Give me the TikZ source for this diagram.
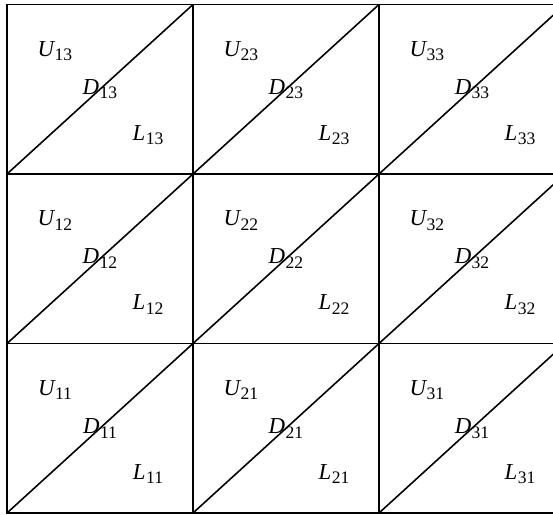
\documentclass[tikz,border=0pt]{standalone}
\usepackage{fontspec}
\setmainfont{Liberation Serif}
\usepackage{tikz}
\usetikzlibrary{calc}
\newcommand{\cellLabel}[2]{{\itshape #1}\kern0.02em\raisebox{-0.45ex}{\fontsize{10}{11}\selectfont #2}}

\begin{document}
\begin{tikzpicture}[x=0.02cm, y=0.02cm, every node/.style={font=\fontsize{13}{15}\selectfont, inner sep=0pt}, grid line/.style={line width=0.9pt}]
  \useasboundingbox (0,0) rectangle (553,514);
  \clip (0,0) rectangle (553,514);
  \foreach \i in {1,2,3} {
    \foreach \j in {1,2,3} {
      \coordinate (c\i\j) at ({7+186*(\i-1)}, {1+169.5*(\j-1)});
      \coordinate (t\i\j) at ($(c\i\j)+(186,169.5)$);
      \draw[grid line] (c\i\j) rectangle (t\i\j);
      \draw[grid line] (c\i\j) -- (t\i\j);
      \node (u\i\j) at ($(c\i\j)+(48,123)$) {\cellLabel{U}{\i\j}};
      \node (d\i\j) at ($(c\i\j)!0.5!(t\i\j)$) {\cellLabel{D}{\i\j}};
      \node (l\i\j) at ($(c\i\j)+(141,39)$) {\cellLabel{L}{\i\j}};
    }
  }
\end{tikzpicture}
\end{document}
